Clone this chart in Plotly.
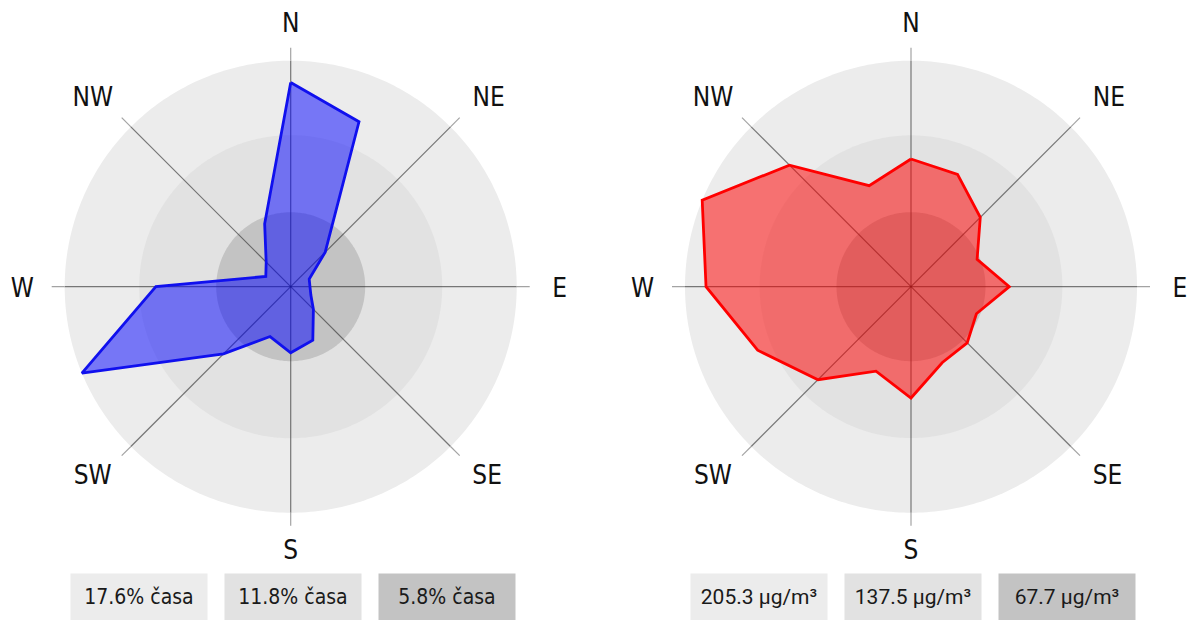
import math
import numpy as np
import plotly.graph_objects as go

# ---- data ----
DIRECTIONS = ['N', 'NNE', 'NE', 'ENE', 'E', 'ESE', 'SE', 'SSE',
              'S', 'SSW', 'SW', 'WSW', 'W', 'WNW', 'NW', 'NNW']
ANGLES = [i * 22.5 for i in range(len(DIRECTIONS))]

# share of time wind blows from each direction (%)
time_share = [15.9, 13.9, 3.8, 1.56, 1.5, 1.7, 2.5, 4.5,
              5.15, 4.2, 7.4, 17.6, 10.5, 2.1, 2.7, 5.3]
# mean concentration for each wind direction (ug/m3)
concentration = [116.0, 110.5, 89.0, 65.0, 89.3, 64.3, 72.2, 74.5,
                 101.1, 83.1, 119.5, 150.8, 186.2, 205.3, 156.2, 99.3]

# reference rings (outer, middle, inner)
time_rings = [17.6, 11.8, 5.8]
conc_rings = [205.3, 137.5, 67.7]
time_ring_labels = ['17.6% časa', '11.8% časa', '5.8% časa']
conc_ring_labels = ['205.3 µg/m³', '137.5 µg/m³', '67.7 µg/m³']

TICK_ANGLES = [0, 45, 90, 135, 180, 225, 270, 315]
TICK_LABELS = ['N', 'NE', 'E', 'SE', 'S', 'SW', 'W', 'NW']

RING_COLORS = ['#ececec', '#e2e2e2', '#c3c3c3']

# geometry (pixels): outer ring radius, spoke length, subplot radius
RING_PX = 226
SPOKE_PX = 239
R = 277
# label centre offsets from the rose centre (px, screen y downward)
LABEL_OFFSETS = [(0, -263), (198, -189), (269, 1.5), (196.5, 188.5),
                 (0, 263.5), (-198, 188.5), (-268.5, 1.5), (-198, -189)]
Y_BIAS = 2.0

LABEL_FONT = 'DejaVu Sans Condensed, Roboto, Liberation Sans'

fig = go.Figure()
circle_theta = np.linspace(0, 360, 361)


def add_rose(polar, rings, values, line_color, fill_color):
    outer = rings[0]
    k = outer / RING_PX  # data units per pixel
    spoke = SPOKE_PX * k
    for rr, col in zip(rings, RING_COLORS):
        fig.add_trace(go.Scatterpolar(
            r=[rr] * len(circle_theta), theta=circle_theta, mode='lines',
            fill='toself', fillcolor=col, line=dict(width=0, color=col),
            hoverinfo='skip', showlegend=False, subplot=polar))
    # spokes: darker over the rings, lighter outside
    rin, tin, rout, tout = [], [], [], []
    for a in TICK_ANGLES:
        rin += [0, outer, None]
        tin += [a, a, None]
        rout += [outer, spoke, None]
        tout += [a, a, None]
    fig.add_trace(go.Scatterpolar(
        r=rin, theta=tin, mode='lines',
        line=dict(color='rgba(40,40,40,0.6)', width=1.2),
        hoverinfo='skip', showlegend=False, subplot=polar))
    fig.add_trace(go.Scatterpolar(
        r=rout, theta=tout, mode='lines',
        line=dict(color='#a3a3a3', width=1.2),
        hoverinfo='skip', showlegend=False, subplot=polar))
    fig.add_trace(go.Scatterpolar(
        r=values + values[:1], theta=ANGLES + ANGLES[:1], mode='lines',
        fill='toself', fillcolor=fill_color,
        line=dict(color=line_color, width=2.8),
        text=DIRECTIONS + DIRECTIONS[:1],
        showlegend=False, subplot=polar))
    # compass labels outside the rose
    lab_r, lab_t = [], []
    for dx, dy in LABEL_OFFSETS:
        dy = dy + Y_BIAS
        lab_r.append(math.hypot(dx, dy) * k)
        lab_t.append(math.degrees(math.atan2(dx, -dy)) % 360)
    fig.add_trace(go.Scatterpolar(
        r=lab_r, theta=lab_t, mode='text', text=TICK_LABELS,
        textposition='middle center', cliponaxis=False,
        textfont=dict(family=LABEL_FONT, size=26, color='#111'),
        hoverinfo='skip', showlegend=False, subplot=polar))


add_rose('polar', time_rings, time_share, '#1010ee', 'rgba(0,0,255,0.5)')
add_rose('polar2', conc_rings, concentration, '#ff0000', 'rgba(255,0,0,0.52)')

W, H = 1189, 620


def domain(cx, cy):
    return dict(x=[(cx - R) / W, (cx + R) / W],
                y=[(H - cy - R) / H, (H - cy + R) / H])


def polar_layout(cx, cy, outer):
    return dict(
        domain=domain(cx, cy),
        bgcolor='rgba(0,0,0,0)',
        radialaxis=dict(visible=False, range=[0, outer * R / RING_PX]),
        angularaxis=dict(
            direction='clockwise', rotation=90,
            tickmode='array', tickvals=TICK_ANGLES,
            showticklabels=False, showgrid=False,
            showline=False, ticks=''),
    )


annotations = []
left_centers = [139, 293, 447]
right_centers = [759, 913, 1067]
for centers, labels, fam in [(left_centers, time_ring_labels, LABEL_FONT),
                             (right_centers, conc_ring_labels, 'Roboto, Liberation Sans')]:
    for cx, lab, col in zip(centers, labels, RING_COLORS):
        annotations.append(dict(
            x=cx / W, y=(H - 597) / H, xref='paper', yref='paper',
            xanchor='center', yanchor='middle', showarrow=False,
            text=lab, width=136, height=46, borderpad=0,
            bgcolor=col, font=dict(family=fam, size=21, color='#1a1a1a')))

fig.update_layout(
    width=W, height=H, margin=dict(l=0, r=0, t=0, b=0),
    paper_bgcolor='white', plot_bgcolor='white',
    polar=polar_layout(290.7, 286.7, time_rings[0]),
    polar2=polar_layout(911, 286.7, conc_rings[0]),
    annotations=annotations,
    showlegend=False,
)

fig.write_html(
    'out.html',
    config={'displayModeBar': False},
    post_script="document.body.style.margin='0';"
                "document.documentElement.style.overflow='hidden';")
